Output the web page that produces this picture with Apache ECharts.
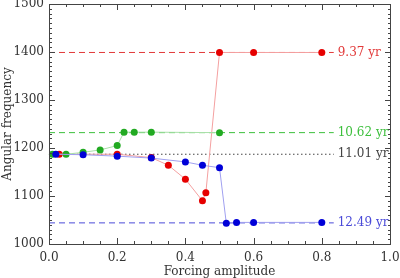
<!DOCTYPE html>
<html><head><meta charset="utf-8">
<script src="https://cdn.jsdelivr.net/npm/echarts@6/dist/echarts.min.js"></script>
<style>html,body{margin:0;padding:0;background:#fff}#c{width:400px;height:278px}</style>
</head><body><div id="c"></div>
<script>
const redData = [[0.03,1187],[0.2,1187],[0.3,1180],[0.35,1164],[0.4,1135],[0.45,1090],[0.46,1107],[0.5,1399],[0.6,1399],[0.8,1399]];
const greenData = [[0.01,1187],[0.05,1187],[0.1,1191],[0.15,1196],[0.2,1205],[0.22,1233],[0.25,1233],[0.3,1233],[0.5,1232]];
const blueData = [[0.02,1187],[0.1,1186],[0.2,1183],[0.3,1179],[0.4,1171],[0.45,1164],[0.5,1159],[0.52,1043],[0.55,1045],[0.6,1045],[0.8,1045]];
const refValues = [1399, 1232, 1187, 1044];
const refLabels = ['9.37 yr', '10.62 yr', '11.01 yr', '12.49 yr'];
const refEnd = 0.835;
const xTicks = [0, 0.2, 0.4, 0.6, 0.8, 1.0];
const yTicks = [1000, 1100, 1200, 1300, 1400, 1500];
const xMinorPerMajor = 4;
const yMinorPerMajor = 10;

const font = "'DejaVu Serif', 'Liberation Serif', serif";
const refColors = ['#e23a3a', '#3cbf3c', '#444444', '#4a4ad8'];
const refTypes = [[6,4],[6,4],[1.5,2.5],[6,4]];
const frameCol = '#444';

function tickItems(ticks, n){
  const out = [];
  for (let i = 0; i < ticks.length; i++) {
    out.push([ticks[i], 1]);
    if (i < ticks.length - 1) {
      const step = (ticks[i+1] - ticks[i]) / n;
      for (let k = 1; k < n; k++) out.push([ticks[i] + step * k, 0]);
    }
  }
  return out;
}
const xTickItems = tickItems(xTicks, xMinorPerMajor);
const yTickItems = tickItems(yTicks, yMinorPerMajor);
const fillStyle = {fill: frameCol, stroke: null};
const R = (x, y, w, h) => ({type:'rect', shape:{x:x, y:y, width:w, height:h}, style:fillStyle});

const chart = echarts.init(document.getElementById('c'), null, {renderer:'canvas'});
const hiddenAx = {axisLine:{show:false}, axisTick:{show:false}, minorTick:{show:false}, splitLine:{show:false}};
const refSeries = refValues.map((v,i)=>({
  type:'line', data:[[0,v],[refEnd,v]], symbol:'none', silent:true, z:1,
  lineStyle:{color:refColors[i], width:1, type:refTypes[i]},
  endLabel:{show:true, formatter:refLabels[i], color:refColors[i], fontFamily:font, fontSize:12, distance:4}
}));
function dataSeries(d, ptColor, lnColor, z){
  return {type:'line', data:d, symbol:'circle', symbolSize:7, z:z, clip:false,
    itemStyle:{color:ptColor}, lineStyle:{color:lnColor, width:1}};
}
const frameSeries = {
  type:'custom', silent:true, z:8, clip:false, data:[[0, 1000]],
  renderItem:(params, api)=>{
    const cs = params.coordSys;
    const x0 = Math.round(cs.x), y0 = Math.round(cs.y);
    const x1 = Math.round(cs.x + cs.width), y1 = Math.round(cs.y + cs.height);
    return {type:'group', children:[
      R(x0, y0, x1 - x0 + 1, 1), R(x0, y1, x1 - x0 + 1, 1),
      R(x0, y0, 1, y1 - y0 + 1), R(x1, y0, 1, y1 - y0 + 1)
    ]};
  }
};
const xTickSeries = {
  type:'custom', silent:true, z:8, clip:false, data:xTickItems,
  renderItem:(params, api)=>{
    const cs = params.coordSys;
    const x = Math.round(api.coord([api.value(0), 1000])[0]);
    const len = api.value(1) ? 6 : 3;
    const yb = Math.round(cs.y + cs.height), yt = Math.round(cs.y);
    return {type:'group', children:[ R(x, yb - len, 1, len), R(x, yt, 1, len) ]};
  }
};
const yTickSeries = {
  type:'custom', silent:true, z:8, clip:false, data:yTickItems.map(t=>[0, t[0], t[1]]),
  renderItem:(params, api)=>{
    const cs = params.coordSys;
    const y = Math.round(api.coord([0, api.value(1)])[1]);
    const len = api.value(2) ? 6 : 3;
    const xl = Math.round(cs.x), xr = Math.round(cs.x + cs.width);
    return {type:'group', children:[ R(xl, y, len, 1), R(xr - len + 1, y, len, 1) ]};
  }
};
chart.setOption({
  animation:false,
  grid:{left:49, right:10, top:4, bottom:34, outerBoundsMode:'none', containLabel:false},
  xAxis: Object.assign({type:'value', min:0, max:1, interval:0.2, position:'bottom',
      name:'Forcing amplitude', nameLocation:'middle', nameGap:22, nameMoveOverlap:false,
      nameTextStyle:{fontFamily:font, fontSize:12, color:'#333'},
      axisLabel:{formatter:v=>v.toFixed(1), fontFamily:font, fontSize:12, color:'#333', margin:8}
    }, hiddenAx),
  yAxis: Object.assign({type:'value', min:1000, max:1500, interval:100, position:'left',
      name:'Angular frequency', nameLocation:'middle', nameGap:35, nameMoveOverlap:false,
      nameTextStyle:{fontFamily:font, fontSize:12, color:'#333'},
      axisLabel:{formatter:v=>String(v), fontFamily:font, fontSize:12, color:'#333', margin:5}
    }, hiddenAx),
  series: refSeries.concat([
    dataSeries(redData, '#e60000', '#f4a0a0', 3),
    dataSeries(greenData, '#22aa22', '#a8e0a8', 4),
    dataSeries(blueData, '#0000d8', '#a0a0f0', 5),
    frameSeries, xTickSeries, yTickSeries
  ])
});
</script></body></html>
